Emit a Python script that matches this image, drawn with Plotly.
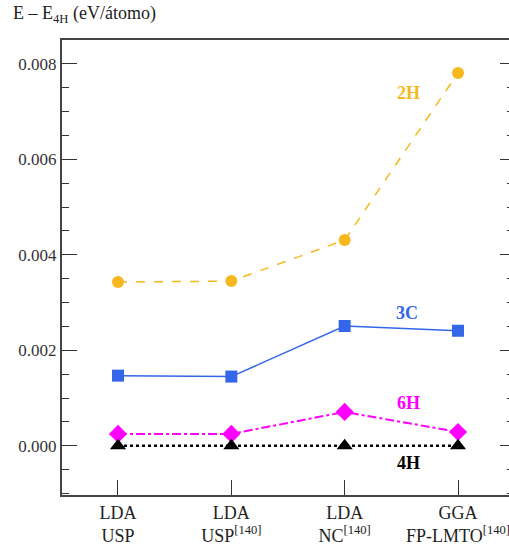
import plotly.graph_objects as go

categories = ["LDA<br>USP", "LDA<br>USP<sup>[140]</sup>", "LDA<br>NC<sup>[140]</sup>", "GGA<br>FP-LMTO<sup>[140]</sup>"]
x_idx = [0, 1, 2, 3]
e_2h = [0.00343, 0.00345, 0.00431, 0.00781]
e_3c = [0.00147, 0.00145, 0.00251, 0.00241]
e_6h = [0.00025, 0.00025, 0.00071, 0.00029]
e_4h = [0.0, 0.0, 0.0, 0.0]
y_ticks = [0.000, 0.002, 0.004, 0.006, 0.008]

FONT = "Liberation Serif"
ORANGE = "#F6B81C"
BLUE = "#3366E8"
MAGENTA = "#FF00FF"
BLACK = "#000000"

fig = go.Figure()
fig.add_trace(go.Scatter(x=x_idx, y=e_2h, mode="lines+markers",
                         line=dict(color=ORANGE, width=1.5, dash="dash"),
                         marker=dict(symbol="circle", size=12, color=ORANGE)))
fig.add_trace(go.Scatter(x=x_idx, y=e_3c, mode="lines+markers",
                         line=dict(color=BLUE, width=1.5),
                         marker=dict(symbol="square", size=12, color=BLUE)))
fig.add_trace(go.Scatter(x=x_idx, y=e_6h, mode="lines+markers",
                         line=dict(color=MAGENTA, width=2, dash="dashdot"),
                         marker=dict(symbol="diamond", size=14, color=MAGENTA)))
fig.add_trace(go.Scatter(x=x_idx, y=e_4h, mode="lines+markers",
                         line=dict(color=BLACK, width=2.5, dash="dot"),
                         marker=dict(symbol="triangle-up", size=14, color=BLACK)))
# invisible trace for the right-side axis ticks
fig.add_trace(go.Scatter(x=[0], y=[0], yaxis="y2", mode="markers",
                         marker=dict(opacity=0), hoverinfo="skip"))

labels = [("2H", 2.56, 0.00739, ORANGE), ("3C", 2.55, 0.00279, BLUE),
          ("6H", 2.56, 0.0009, MAGENTA), ("4H", 2.56, -0.000356, BLACK)]
for txt, lx, ly, col in labels:
    fig.add_annotation(x=lx, y=ly, text="<b>%s</b>" % txt, showarrow=False,
                       font=dict(family=FONT, size=18, color=col))

yrange = [-0.00103, 0.0085]
fig.update_layout(
    width=509, height=547,
    margin=dict(l=62, r=0, t=40, b=52),
    paper_bgcolor="white", plot_bgcolor="white",
    showlegend=False,
    font=dict(family=FONT, size=16, color="#222"),
    xaxis=dict(range=[-0.494, 3.45], tickvals=x_idx, ticktext=categories,
               ticks="inside", ticklen=15, tickcolor="#333", tickwidth=1.2,
               showline=True, linecolor="#444", linewidth=2, mirror=True,
               showgrid=False, zeroline=False, ticklabeloverflow="allow",
               tickfont=dict(family=FONT, size=18, color="#222")),
    yaxis=dict(range=yrange, tickvals=y_ticks, tickformat=".3f",
               ticks="inside", ticklen=15, tickcolor="#333", tickwidth=1.2,
               minor=dict(dtick=0.0005, ticks="inside", ticklen=7, tickcolor="#333", tickwidth=1.2),
               showline=True, linecolor="#444", linewidth=2,
               showgrid=False, zeroline=False,
               tickfont=dict(family=FONT, size=17, color="#333")),
    yaxis2=dict(range=yrange, overlaying="y", side="right", tickvals=y_ticks,
                showticklabels=False, ticks="inside", ticklen=9, tickcolor="#333", tickwidth=1.2,
                minor=dict(dtick=0.0005, ticks="inside", ticklen=2, tickcolor="#333", tickwidth=1.2),
                showline=False, showgrid=False, zeroline=False),
)
fig.add_annotation(xref="paper", yref="paper", x=-0.114, y=1.0, yshift=26,
                   xanchor="left", yanchor="middle", showarrow=False,
                   text="E – E<sub>4H</sub> (eV/átomo)",
                   font=dict(family=FONT, size=18, color="#222"))

fig.write_html("out.html")
